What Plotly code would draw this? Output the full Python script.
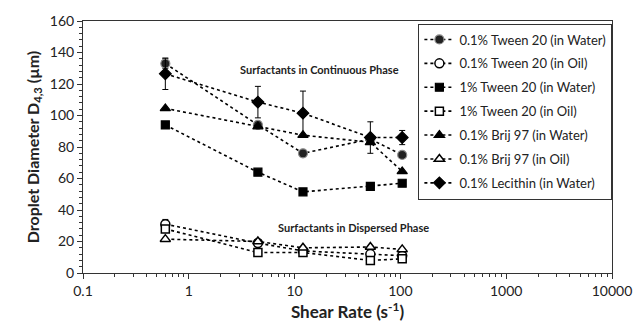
import plotly.graph_objects as go

shear_rate = [0.6, 4.5, 12, 52, 104]

tween01_water = [133, 94, 76, 85, 75]
tween01_water_err = [3, 2, 1.5, 2, 1.5]
tween01_oil = [31, 19, 14, 12, 11]
tween01_oil_err = [3, 1, 1, 1, 1]
tween1_water = [94, 64, 51.5, 55, 57]
tween1_oil = [28, 13, 13, 8, 9]
brij_water = [104.5, 93, 87.5, 83, 64.5]
brij_oil = [21.5, 20, 16, 16.5, 15]
lecithin_water = [126.5, 108.5, 101.5, 86, 86]
lecithin_err = [10, 10, 14, 10, 4.5]

series = [
    ("0.1% Tween 20 (in Water)", tween01_water, tween01_water_err, "circle", "#222222", "#8a8a8a"),
    ("0.1% Tween 20 (in Oil)", tween01_oil, tween01_oil_err, "circle-open", "black", "black"),
    ("1% Tween 20 (in Water)", tween1_water, None, "square", "black", "black"),
    ("1% Tween 20 (in Oil)", tween1_oil, None, "square-open", "black", "black"),
    ("0.1% Brij 97 (in Water)", brij_water, None, "triangle-up", "black", "black"),
    ("0.1% Brij 97 (in Oil)", brij_oil, None, "triangle-up-open", "black", "black"),
    ("0.1% Lecithin (in Water)", lecithin_water, lecithin_err, "diamond", "black", "black"),
]

FONT = "Lato, 'Open Sans', sans-serif"

fig = go.Figure()
for i, (name, ys, err, sym, col, lcol) in enumerate(series):
    is_open = sym.endswith("open")
    fill = "white" if is_open else col
    s = sym.replace("-open", "")
    fig.add_trace(go.Scatter(
        x=shear_rate, y=ys, name=name, mode="lines+markers",
        legendgroup=f"g{i}",
        line=dict(color="black", width=1.6, dash="dot"),
        marker=dict(symbol=s, size=9 if "square" not in s else 8,
                    color=fill, line=dict(color="black" if is_open else lcol,
                                          width=1.5 if is_open else 1.2)),
        error_y=dict(type="data", array=err, visible=err is not None,
                     color="black", thickness=1, width=3),
    ))

fig.add_annotation(x=1.233, y=129.5, xref="x", yref="y", text="<b>Surfactants in Continuous Phase</b>",
                   showarrow=False, font=dict(family=FONT, size=11, color="#222"))
fig.add_annotation(x=1.552, y=29, xref="x", yref="y", text="<b>Surfactants in Dispersed Phase</b>",
                   showarrow=False, font=dict(family=FONT, size=11, color="#222"))

fig.update_layout(
    width=644, height=331,
    margin=dict(l=83, r=28, t=17, b=58),
    plot_bgcolor="white", paper_bgcolor="white",
    font=dict(family=FONT, size=14, color="#222"),
    showlegend=True,
    legend=dict(x=0.634, y=0.99, xanchor="left", yanchor="top",
                bordercolor="#333", borderwidth=1, bgcolor="white",
                font=dict(family=FONT, size=13, color="#222"),
                tracegroupgap=4, itemwidth=30),
    xaxis=dict(type="log", range=[-1, 4], showgrid=False,
               tickvals=[0.1, 1, 10, 100, 1000, 10000],
               ticktext=["0.1", "1", "10", "100", "1000", "10000"],
               ticks="outside", ticklen=5, tickcolor="#333",
               showline=True, linecolor="#333", linewidth=1, mirror=True,
               ticklabeloverflow="allow",
               minor=dict(ticks="outside", ticklen=3, tickcolor="#333",
                          tickvals=[m * 10 ** e for e in range(-1, 4) for m in range(2, 10)]),
               title=dict(text="<b>Shear Rate (s<sup>-1</sup>)</b>", font=dict(size=17), standoff=8),
               zeroline=False),
    yaxis=dict(range=[0, 160], dtick=20, showgrid=False,
               ticks="outside", ticklen=5, tickcolor="#333",
               showline=True, linecolor="#333", linewidth=1, mirror=True,
               ticklabeloverflow="allow",
               minor=dict(ticks="outside", ticklen=3, dtick=4, tickcolor="#333"),
               title=dict(text="<b>Droplet Diameter D<sub>4,3</sub> (µm)</b>", font=dict(size=16), standoff=6),
               zeroline=False),
)

# remove the browser's default 8px page margin so the figure fills the window exactly
fig.write_html("out.html", config={"displayModeBar": False},
               post_script="document.body.style.margin='0';")
